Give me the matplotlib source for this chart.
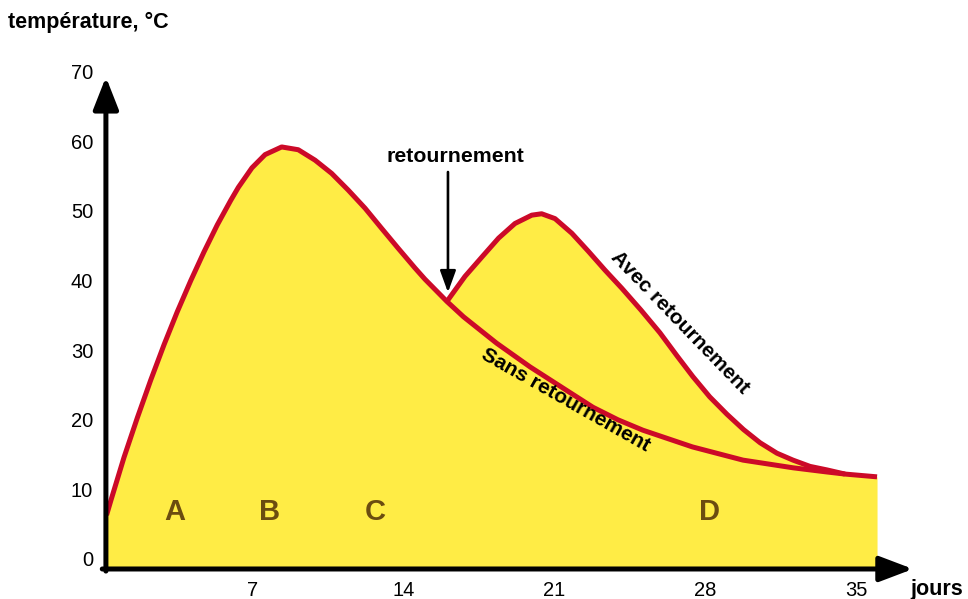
import matplotlib
matplotlib.use("Agg")
import matplotlib.pyplot as plt

plt.rcParams['font.family'] = ['Liberation Sans', 'DejaVu Sans']

# --- data ---
sans_days = [0.2, 0.4, 1.01, 1.63, 2.25, 2.87, 3.48, 4.11, 4.72, 5.34, 5.96, 6.32, 6.95,
             7.56, 8.33, 9.10, 9.88, 10.65, 11.42, 12.2, 12.97, 13.75, 14.52, 14.98, 16.0,
             16.77, 17.54, 18.31, 19.86, 21.72, 22.78, 23.94, 25.1, 27.4, 29.75, 32.07,
             33.64, 34.48, 35.97]
sans_temp = [6.3, 8.4, 14.6, 20.3, 25.7, 30.8, 35.5, 40.0, 44.1, 48.0, 51.5, 53.4, 56.2,
             58.1, 59.2, 58.8, 57.3, 55.4, 53.0, 50.4, 47.5, 44.6, 41.8, 40.2, 37.0,
             34.8, 32.9, 31.0, 27.6, 23.9, 21.8, 20.0, 18.5, 16.1, 14.2, 13.1,
             12.5, 12.2, 11.8]
avec_days = [16.0, 16.14, 16.84, 17.63, 18.40, 19.16, 19.94, 20.4, 21.02, 21.8, 22.57,
             23.34, 24.12, 25.0, 25.89, 26.68, 27.42, 28.2, 29.0, 29.77, 30.54, 31.32,
             32.07, 32.86, 33.64, 34.48]
avec_temp = [37.0, 37.6, 40.6, 43.4, 46.1, 48.2, 49.4, 49.6, 48.9, 46.8, 44.2,
             41.5, 38.9, 35.8, 32.5, 29.2, 26.2, 23.3, 20.8, 18.6, 16.7, 15.2,
             14.2, 13.3, 12.8, 12.2]
x_ticks = [7, 14, 21, 28, 35]
y_ticks = [0, 10, 20, 30, 40, 50, 60, 70]
phase_labels = ['A', 'B', 'C', 'D']
phase_days = [3.38, 7.79, 12.66, 28.21]
turn_day = 16.05

RED = '#CC0A28'
YELLOW = '#FFEC45'
BROWN = '#6B4C10'

fig = plt.figure(figsize=(9.68, 5.99), dpi=100)
ax = fig.add_axes([102.25 / 968, 0.0501, 861.6 / 968, 0.8533])
ymin = -1.44
ax.set_xlim(0, 40)
ax.set_ylim(ymin, 72)

# envelope for the yellow fill
env_x = [d for d in sans_days if d < avec_days[0]] + avec_days + [d for d in sans_days if d > avec_days[-1]]
env_y = ([t for d, t in zip(sans_days, sans_temp) if d < avec_days[0]] + avec_temp +
         [t for d, t in zip(sans_days, sans_temp) if d > avec_days[-1]])
ax.fill_between(env_x, env_y, ymin, color=YELLOW, lw=0, zorder=1)

ax.plot(sans_days, sans_temp, color=RED, lw=3.6, zorder=3, solid_capstyle='butt', solid_joinstyle='round')
ax.plot(avec_days, avec_temp, color=RED, lw=3.6, zorder=3, solid_capstyle='butt', solid_joinstyle='round')

for s in ax.spines.values():
    s.set_visible(False)
ax.set_xticks(x_ticks)
ax.set_yticks(y_ticks)
ax.tick_params(length=0, labelsize=14.5, colors='black')
ax.tick_params(axis='x', pad=8.5)
ax.tick_params(axis='y', pad=6.5)

# axis arrows
ax.annotate('', xy=(0.17, 69.25), xytext=(0.17, ymin - 0.3), xycoords='data',
            arrowprops=dict(arrowstyle='-|>,head_length=1.4,head_width=0.55', lw=3.6,
                            color='black', mutation_scale=14, shrinkA=0, shrinkB=0),
            annotation_clip=False, zorder=5)
ax.annotate('', xy=(37.64, ymin), xytext=(0.0, ymin), xycoords='data',
            arrowprops=dict(arrowstyle='-|>,head_length=1.45,head_width=0.55', lw=3.6,
                            color='black', mutation_scale=14, shrinkA=0, shrinkB=0),
            annotation_clip=False, zorder=5)

# phase letters
for lab, d in zip(phase_labels, phase_days):
    ax.text(d, 6.75, lab, ha='center', va='center', fontsize=21, fontweight='bold', color=BROWN, zorder=4)

# turning annotation
ax.annotate('', xy=(turn_day, 38.3), xytext=(turn_day, 55.6),
            arrowprops=dict(arrowstyle='-|>,head_length=1.1,head_width=0.4', lw=1.9,
                            color='black', mutation_scale=12, shrinkA=0, shrinkB=0), zorder=5)
ax.text(16.42, 57.8, 'retournement', ha='center', va='center', fontsize=15.3, fontweight='bold')

ax.text(21.53, 22.8, 'Sans retournement', ha='center', va='center', fontsize=15,
        fontweight='bold', rotation=-29.5, rotation_mode='anchor', zorder=4)
ax.text(26.82, 34.0, 'Avec retournement', ha='center', va='center', fontsize=15,
        fontweight='bold', rotation=-46, rotation_mode='anchor', zorder=4)

fig.text(8 / 968, 1 - 22 / 599, 'température, °C', ha='left', va='center', fontsize=15.5, fontweight='bold')
fig.text(937 / 968, 1 - 590 / 599, 'jours', ha='center', va='center', fontsize=15.5, fontweight='bold')

fig.savefig('out.png', dpi=100)
